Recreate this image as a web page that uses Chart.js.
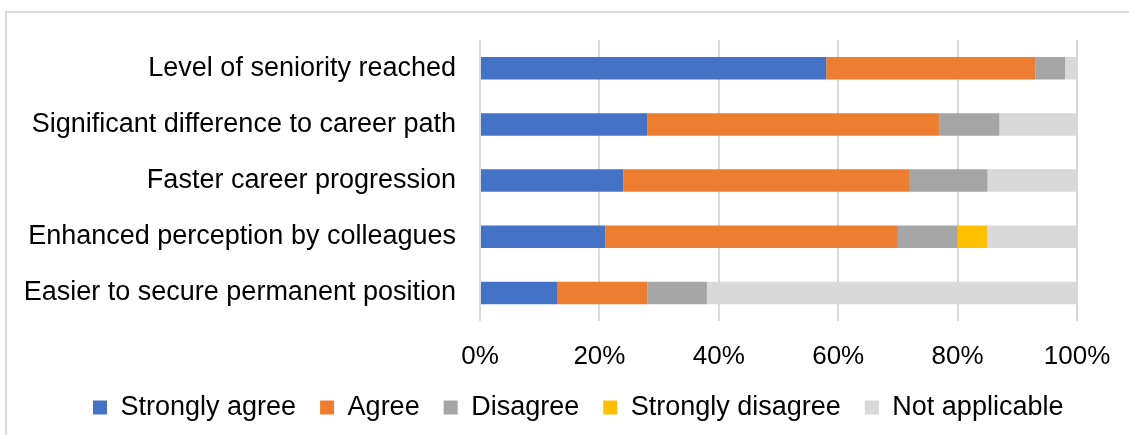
<!DOCTYPE html>
<html>
<head>
<meta charset="utf-8">
<title>Career impact survey</title>
<script src="https://cdn.jsdelivr.net/npm/chart.js@4.4.1/dist/chart.umd.min.js"></script>
<style>
  html, body { margin: 0; padding: 0; background: #fff; }
  #wrap { position: relative; width: 1129px; height: 435px; overflow: hidden; }
  #frame {
    position: absolute; left: 5px; top: 11px; width: 1200px; height: 500px;
    border-left: 2px solid #d9d9d9; border-top: 2px solid #d9d9d9;
  }
  #chart { position: absolute; left: 0; top: 0; }
</style>
</head>
<body>
<div id="wrap">
  <div id="frame"></div>
  <canvas id="chart" width="1129" height="435"></canvas>
</div>
<script>
// Survey statements (top to bottom)
const categories = [
    'Level of seniority reached',
    'Significant difference to career path',
    'Faster career progression',
    'Enhanced perception by colleagues',
    'Easier to secure permanent position'
];

// Share of responses, percent
const stronglyAgree = [58, 28, 24, 21, 13];
const agree = [35, 49, 48, 49, 15];
const disagree = [5, 10, 13, 10, 10];
const stronglyDisagree = [0, 0, 0, 5, 0];
const notApplicable = [2, 13, 15, 15, 62];

const seriesNames = ['Strongly agree', 'Agree', 'Disagree', 'Strongly disagree', 'Not applicable'];
const seriesColors = ['#4472C4', '#ED7D31', '#A5A5A5', '#FFC000', '#D9D9D9'];
const seriesValues = [stronglyAgree, agree, disagree, stronglyDisagree, notApplicable];

const xTickValues = [0, 20, 40, 60, 80, 100];

const fontFamily = "'Liberation Sans', Arial, sans-serif";

const datasets = seriesNames.map(function(name, i) {
    return {
        label: name,
        data: seriesValues[i],
        backgroundColor: seriesColors[i],
        borderWidth: 0,
        barPercentage: 0.4,
        categoryPercentage: 1.0
    };
});

// nudge the legend row to the right so it sits under the labels
const legendOffset = {
    id: 'legendOffset',
    afterLayout: function(chart) {
        if (chart.legend) {
            chart.legend.left += 69;
        }
    }
};

const ctx = document.getElementById('chart').getContext('2d');

new Chart(ctx, {
    type: 'bar',
    data: {
        labels: categories,
        datasets: datasets
    },
    plugins: [legendOffset],
    options: {
        indexAxis: 'y',
        responsive: false,
        animation: false,
        layout: {
            padding: { left: 0, top: 40, right: 0, bottom: 4 }
        },
        scales: {
            x: {
                stacked: true,
                min: 0,
                max: 100,
                afterBuildTicks: function(scale) {
                    scale.ticks = xTickValues.map(function(v) { return { value: v }; });
                },
                afterFit: function(scale) {
                    scale.height = 49;
                    scale.paddingLeft = 0;
                    scale.paddingRight = 52;
                },
                grid: {
                    color: '#d9d9d9',
                    lineWidth: 2,
                    drawTicks: false
                },
                border: { display: false },
                ticks: {
                    padding: 20,
                    color: '#000',
                    font: { family: fontFamily, size: 26 },
                    callback: function(value) { return value + '%'; }
                }
            },
            y: {
                stacked: true,
                afterFit: function(scale) {
                    scale.width = 480;
                },
                grid: { display: false, drawTicks: false },
                border: { display: false },
                ticks: {
                    padding: 24,
                    color: '#000',
                    font: { family: fontFamily, size: 27 }
                }
            }
        },
        plugins: {
            legend: {
                position: 'bottom',
                align: 'start',
                labels: {
                    boxWidth: 14,
                    boxHeight: 14,
                    padding: 24,
                    color: '#000',
                    font: { family: fontFamily, size: 27 }
                }
            },
            tooltip: { enabled: false }
        }
    }
});
</script>
</body>
</html>
